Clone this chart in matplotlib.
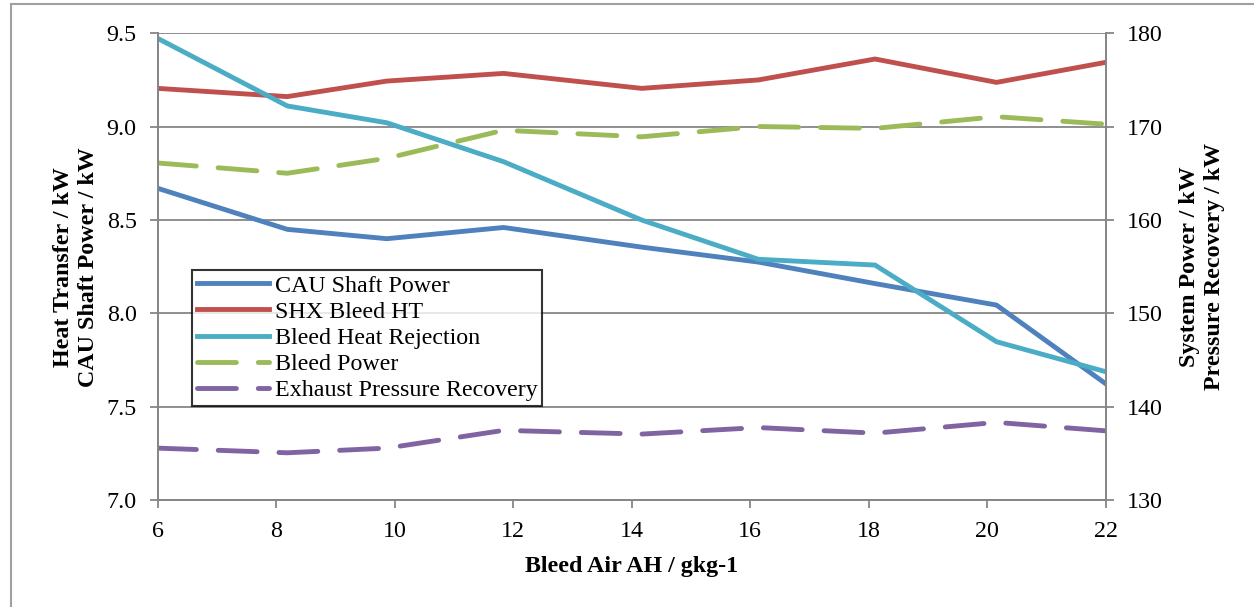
import numpy as np
import matplotlib
matplotlib.use("Agg")
import matplotlib.pyplot as plt
from matplotlib.patches import Rectangle

plt.rcParams['font.family'] = ['Liberation Serif', 'DejaVu Serif']

# bleed air absolute humidity, g/kg
bleed_ah = [6.0, 8.19, 9.87, 11.84, 14.17, 16.14, 18.11, 20.16, 22.0]

# left axis (kW)
cau_shaft_power = [8.67, 8.45, 8.40, 8.46, 8.355, 8.275, 8.16, 8.045, 7.625]
shx_bleed_ht = [9.204, 9.16, 9.243, 9.284, 9.204, 9.249, 9.361, 9.236, 9.343]
bleed_heat_rejection = [9.472, 9.11, 9.02, 8.812, 8.50, 8.29, 8.259, 7.849, 7.689]

# right axis (kW)
bleed_power = [166.1, 165.0, 166.6, 169.6, 168.9, 170.0, 169.8, 171.05, 170.25]
exhaust_pressure_recovery = [135.6, 135.1, 135.6, 137.5, 137.1, 137.8, 137.2, 138.35, 137.45]

grey = '#868686'
fs = 17.3

fig = plt.figure(figsize=(12.54, 6.07), dpi=100)
ax = fig.add_axes([0.1256, 0.1755, 0.756, 0.7701])
ax2 = ax.twinx()

lw = 3.5
l1, = ax.plot(bleed_ah, cau_shaft_power, color='#4F81BD', lw=lw, label='CAU Shaft Power')
l2, = ax.plot(bleed_ah, shx_bleed_ht, color='#C0504D', lw=lw, label='SHX Bleed HT')
l3, = ax.plot(bleed_ah, bleed_heat_rejection, color='#4BACC6', lw=lw, label='Bleed Heat Rejection')
l4, = ax2.plot(bleed_ah, bleed_power, color='#9BBB59', lw=lw, dashes=(8, 4.5),
               dash_capstyle='round', label='Bleed Power')
l5, = ax2.plot(bleed_ah, exhaust_pressure_recovery, color='#8064A2', lw=lw, dashes=(8, 4.5),
               dash_capstyle='round', label='Exhaust Pressure Recovery')

ax.set_xlim(6, 22)
ax.set_ylim(7.0, 9.5)
ax2.set_ylim(130, 180)
ax.set_xticks(np.arange(6, 23, 2))
ax.set_yticks(np.arange(7.0, 9.51, 0.5))
ax.set_yticklabels([f"{v:.1f}" for v in np.arange(7.0, 9.51, 0.5)])
ax2.set_yticks(np.arange(130, 181, 10))

ax.grid(True, axis='y', color=grey, lw=1.3)
ax.set_axisbelow(True)

for a in (ax, ax2):
    a.spines['top'].set_visible(False)
    for s in ('left', 'right', 'bottom'):
        a.spines[s].set_color(grey)
        a.spines[s].set_linewidth(1.3)
    a.tick_params(direction='out', length=6, width=1.3, color=grey,
                  labelsize=fs, pad=9)

ax.set_xlabel('Bleed Air AH / gkg-1', fontsize=fs, fontweight='bold', labelpad=10)
ax.set_ylabel('Heat Transfer / kW\nCAU Shaft Power / kW', fontsize=fs,
              fontweight='bold', labelpad=5, linespacing=1.25)
ax2.set_ylabel('System Power / kW\nPressure Recovery / kW', fontsize=fs,
               fontweight='bold', labelpad=12, linespacing=1.25)

leg = ax2.legend(handles=[l1, l2, l3, l4, l5], loc='upper left',
                 bbox_to_anchor=(0.0364, 0.493), borderaxespad=0, fontsize=fs,
                 frameon=True, fancybox=False, edgecolor='black',
                 handlelength=3.0, handletextpad=0.25, labelspacing=0.18,
                 borderpad=0.2)
leg.get_frame().set_linewidth(1.5)

# chart area border
fig.patches.append(Rectangle((11 / 1254, -0.1), 1.2, 1 - 4 / 607 + 0.1,
                             transform=fig.transFigure, fill=False,
                             edgecolor='#a0a0a0', lw=1.5))

fig.savefig('out.png', dpi=100)
